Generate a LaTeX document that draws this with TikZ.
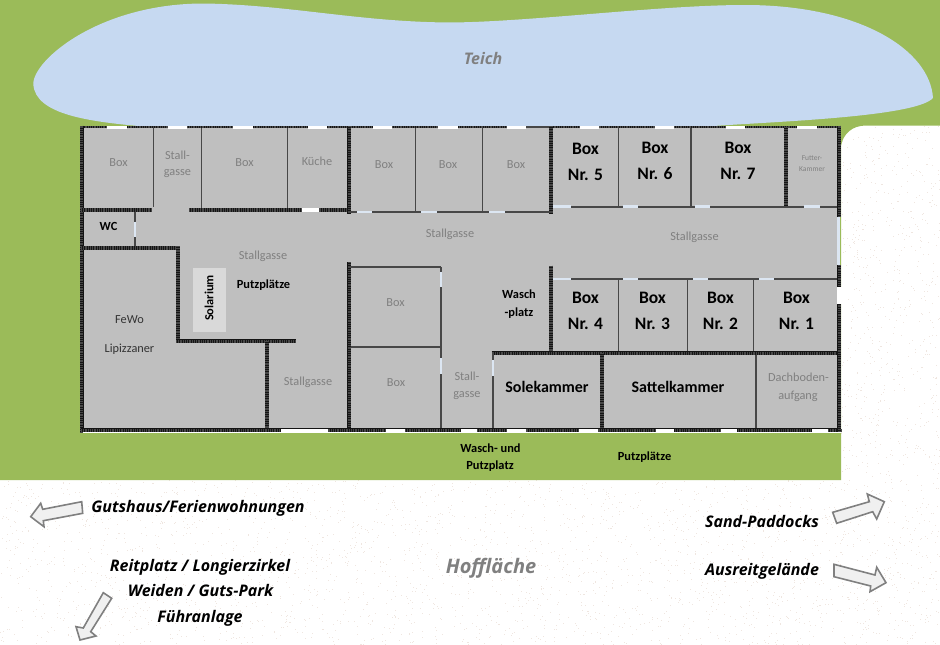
\documentclass[tikz,border=0pt]{standalone}
\usepackage{fontspec}
\setmainfont{Carlito}
\newfontfamily\osans{Open Sans}
\definecolor{grasscol}{HTML}{9BBB59}
\definecolor{pondcol}{HTML}{C6D9F1}
\definecolor{roomcol}{HTML}{BFBFBF}
\definecolor{solcol}{HTML}{D9D9D9}
\definecolor{labelgrey}{HTML}{808080}
\definecolor{doorcol}{HTML}{DCE6F2}
\definecolor{speckA}{HTML}{EFE6E0}
\tikzset{
  wall/.style={line width=4, draw=black!92, line cap=butt, postaction={draw=black!72, line width=3.6, dash pattern=on .6 off 1.2}},
  slimwall/.style={line width=2.8, draw=black!92, line cap=butt, postaction={draw=black!70, line width=2.4, dash pattern=on .6 off 1.2}},
  partition/.style={line width=1.4, draw=black!72, line cap=butt},
  window/.style={line width=3, draw=white, line cap=butt},
  door/.style={line width=2.6, draw=doorcol, line cap=butt},
  lab/.style={inner sep=0, align=center, text height=1.5ex, text depth=.25ex, yshift=-2pt},
  greylab/.style={lab, text=labelgrey, font=\fontsize{12.3}{12.3}\selectfont},
  boxlab/.style={lab, yshift=-1.5pt, text=black, font=\fontsize{17.5}{17.5}\selectfont\bfseries},
  blacklab/.style={lab, text=black, font=\fontsize{12.4}{12.4}\selectfont\bfseries},
  namelab/.style={lab, text=black!80, font=\fontsize{12.3}{12.3}\selectfont},
  roomlab/.style={lab, yshift=-2pt, text=black, font=\fontsize{16}{16}\selectfont\bfseries},
  italab/.style={lab, yshift=-1.5pt, text=black, font=\osans\fontsize{16}{16}\selectfont\bfseries\itshape},
  dirarrow/.style={fill=black!6, draw=black!50, line width=1.6, line join=miter},
}
\begin{document}
\begin{tikzpicture}[x=1pt,y=-1pt]
\useasboundingbox (0,0) rectangle (940,645);
% ground
\fill[white] (0,0) rectangle (940,645);
\pgfmathsetseed{4711}
\foreach \i in {1,...,2600}{
  \pgfmathsetmacro{\px}{rnd*940}
  \pgfmathsetmacro{\py}{480+rnd*165}
  \fill[speckA] (\px,\py) rectangle ++(1,1);
}
\foreach \i in {1,...,600}{
  \pgfmathsetmacro{\px}{841+rnd*99}
  \pgfmathsetmacro{\py}{126+rnd*354}
  \fill[speckA] (\px,\py) rectangle ++(1,1);
}
\fill[grasscol] (0,0) -- (940,0) -- (940,125.5) -- (866,125.5)
  .. controls (852,125.5) and (843,134) .. (841,146) -- (841,480) -- (0,480) -- cycle;
% pond
\fill[pondcol] (33.3,84) .. controls (33,60) and (100,3) .. (205,3.5)
  .. controls (290,5) and (360,22) .. (450,22.5)
  .. controls (530,22) and (660,5) .. (745,5)
  .. controls (860,5) and (930,50) .. (933,98)
  .. controls (915,118) and (760,122) .. (700,127) -- (150,127)
  .. controls (90,122) and (35,115) .. (33.3,84) -- cycle;
% building floor
\fill[roomcol] (81,126) rectangle (839,431);
\draw[white, line width=1] (81,432.5) -- (841,432.5);
\fill[solcol] (192.7,268.3) rectangle (226,331.7);
% thin partitions
\draw[partition] (153.5,127) -- (153.5,207);
\draw[partition] (201.7,127) -- (201.7,208);
\draw[partition] (287.3,127) -- (287.3,208);
\draw[partition] (135,210) -- (135,247);
\draw[partition] (415.3,127) -- (415.3,212);
\draw[partition] (482.7,127) -- (482.7,212);
\draw[partition, line width=2] (349,212) -- (550,212);
\draw[partition, line width=2] (551,206.7) -- (839,206.7);
\draw[partition, line width=2] (551,279) -- (839,279);
\draw[partition] (618.7,127) -- (618.7,206);
\draw[partition] (691,127) -- (691,206);
\draw[partition] (618.7,279) -- (618.7,351);
\draw[partition] (687.3,279) -- (687.3,351);
\draw[partition] (753.3,279) -- (753.3,351);
\draw[partition] (756,353) -- (756,430);
\draw[partition] (349,267) -- (441,267);
\draw[partition] (441,267) -- (441,430);
\draw[partition] (349,347) -- (441,347);
\draw[partition] (493,353) -- (493,430);
% heavy walls
\draw[slimwall] (81,127) -- (507,127);
\draw[partition] (507,127) -- (550,127);
\draw[slimwall] (550,127) -- (841,127);
\draw[wall] (81.5,125.5) -- (81.5,432);
\draw[wall] (81,210) -- (152,210);
\draw[wall] (189,210) -- (348,210);
\draw[wall] (349.3,126) -- (349.3,214);
\draw[wall] (551,126) -- (551,214);
\draw[wall] (81,247.7) -- (179.5,247.7);
\draw[wall] (177.7,246) -- (177.7,343);
\draw[wall] (176,341.3) -- (296,341.3);
\draw[wall] (267,341) -- (267,430);
\draw[wall] (349.3,262) -- (349.3,430);
\draw[wall] (551,265.7) -- (551,355);
\draw[wall] (491.5,353.3) -- (839,353.3);
\draw[wall] (601.7,353) -- (601.7,430);
\draw[wall] (785.7,127) -- (785.7,206);
\draw[wall] (81,430.3) -- (841,430.3);
\draw[wall] (839.3,125.5) -- (839.3,216.7);
\draw[wall] (839.3,265) -- (839.3,432);
% windows on the outer walls
\foreach \a/\b in {107/127,168/187,233/253,308/327,373/392,438/458,507/526,580/599,655/674,726/745,797/817}
  \draw[window] (\a,127) -- (\b,127);
\foreach \a/\b in {281/328,386/405,460.7/476.7,506.7/525.7,579/598,655.7/674,721/737,812/828}
  \draw[window,line width=3.4] (\a,430.6) -- (\b,430.6);
\draw[window, line width=4.4] (301.7,210) -- (319.3,210);
\draw[window, line width=4.4] (839.5,286.7) -- (839.5,304);
% doors
\draw[door] (135,221.7) -- (135,236.7);
\foreach \a/\b in {357/372,421/437,489/505}
  \draw[door] (\a,212) -- (\b,212);
\foreach \a/\b in {553/571,623/638,695/710,804/820}
  \draw[door] (\a,206.7) -- (\b,206.7);
\foreach \a/\b in {553/571,623/638,693/708,759/774}
  \draw[door] (\a,279) -- (\b,279);
\draw[door] (441,271.7) -- (441,286.7);
\draw[door] (441,358) -- (441,374);
\draw[door] (493,360) -- (493,376);
\draw[door, line width=3] (838.6,216.7) -- (838.6,265);
% room labels
\node[greylab] (l1) at (118.5,162) {Box};
\node[greylab] (l2) at (177.5,154.3) {Stall-};
\node[greylab] (l3) at (177.5,171) {gasse};
\node[greylab] (l4) at (244.5,162) {Box};
\node[greylab] (l5) at (317,161) {Küche};
\node[greylab] (l6) at (384,164) {Box};
\node[greylab] (l7) at (448,164) {Box};
\node[greylab] (l8) at (516,164) {Box};
\node[boxlab] (b5a) at (585.5,148) {Box};
\node[boxlab] (b5b) at (585.5,174) {Nr. 5};
\node[boxlab] (b6a) at (655,147) {Box};
\node[boxlab] (b6b) at (655,173) {Nr. 6};
\node[boxlab] (b7a) at (738,147) {Box};
\node[boxlab] (b7b) at (738,173) {Nr. 7};
\node[greylab, font=\fontsize{7.5}{7.5}\selectfont] (f1) at (812,155.5) {Futter-};
\node[greylab, font=\fontsize{7.5}{7.5}\selectfont] (f2) at (812,166.5) {Kammer};
\node[blacklab] (wc) at (108.5,226) {WC};
\node[greylab] (s1) at (263,255) {Stallgasse};
\node[greylab] (s2) at (450,232.5) {Stallgasse};
\node[greylab] (s3) at (694.5,236) {Stallgasse};
\node[blacklab] (pp) at (263.5,284) {Putzplätze};
\node[blacklab, yshift=2pt, rotate=90] (sol) at (210.5,298) {Solarium};
\node[namelab] (fw1) at (129.5,318.5) {FeWo};
\node[namelab] (fw2) at (129.5,347.5) {Lipizzaner};
\node[greylab] (l9) at (395.5,301.5) {Box};
\node[greylab] (l10) at (396,382) {Box};
\node[greylab] (s4) at (308,381) {Stallgasse};
\node[greylab] (s5) at (467,375.5) {Stall-};
\node[greylab] (s6) at (467,393) {gasse};
\node[blacklab] (w1) at (519,294) {Wasch};
\node[blacklab] (w2) at (519,312) {-platz};
\node[boxlab] (b4a) at (585.5,297) {Box};
\node[boxlab] (b4b) at (585.5,323) {Nr. 4};
\node[boxlab] (b3a) at (652.5,297) {Box};
\node[boxlab] (b3b) at (652.5,323) {Nr. 3};
\node[boxlab] (b2a) at (720.5,297) {Box};
\node[boxlab] (b2b) at (720.5,323) {Nr. 2};
\node[boxlab] (b1a) at (796.5,297) {Box};
\node[boxlab] (b1b) at (796.5,323) {Nr. 1};
\node[roomlab] (sk) at (547,386) {Solekammer};
\node[roomlab] (st) at (678,386) {Sattelkammer};
\node[greylab] (d1) at (798.5,377) {Dachboden-};
\node[greylab] (d2) at (798,394.5) {aufgang};
\node[blacklab] (wp1) at (490.5,447.5) {Wasch- und};
\node[blacklab] (wp2) at (490,465) {Putzplatz};
\node[blacklab] (pp2) at (644.5,456) {Putzplätze};
% outside labels
\node[italab] (t1) at (198,506.5) {Gutshaus/Ferienwohnungen};
\node[italab] (t2) at (200,565) {Reitplatz / Longierzirkel};
\node[italab] (t3) at (200.5,590) {Weiden / Guts-Park};
\node[italab] (t4) at (200,616) {Führanlage};
\node[italab] (t5) at (762,521) {Sand-Paddocks};
\node[italab] (t6) at (762,569.5) {Ausreitgelände};
\node[italab, yshift=-1.5pt, text=labelgrey, font=\osans\fontsize{20}{20}\selectfont\bfseries\itshape] (hof) at (491,566) {Hoffläche};
\node[italab, text=labelgrey, font=\osans\fontsize{16}{16}\selectfont\bfseries\itshape] (teich) at (483,58) {Teich};
% direction arrows
\draw[dirarrow] (81.7,501.7) -- (42.7,509.3) -- (40.7,503.3) -- (30.7,516.7) -- (44,526.7) -- (43.3,520.7) -- (82.7,513.3) -- cycle;
\draw[dirarrow] (103.3,592.7) -- (83.3,628) -- (76,626.7) -- (80,640) -- (96,636) -- (90.7,631.7) -- (111.7,598.3) -- cycle;
\draw[dirarrow] (832.7,512.3) -- (869.3,501.7) -- (867.3,494) -- (884.3,501.7) -- (876.7,519) -- (872.7,511.7) -- (836.7,523.3) -- cycle;
\draw[dirarrow] (834,564.3) -- (875,575) -- (876.7,567.3) -- (886,582.7) -- (870,591.7) -- (870.7,586) -- (834,576.7) -- cycle;
\end{tikzpicture}
\end{document}
